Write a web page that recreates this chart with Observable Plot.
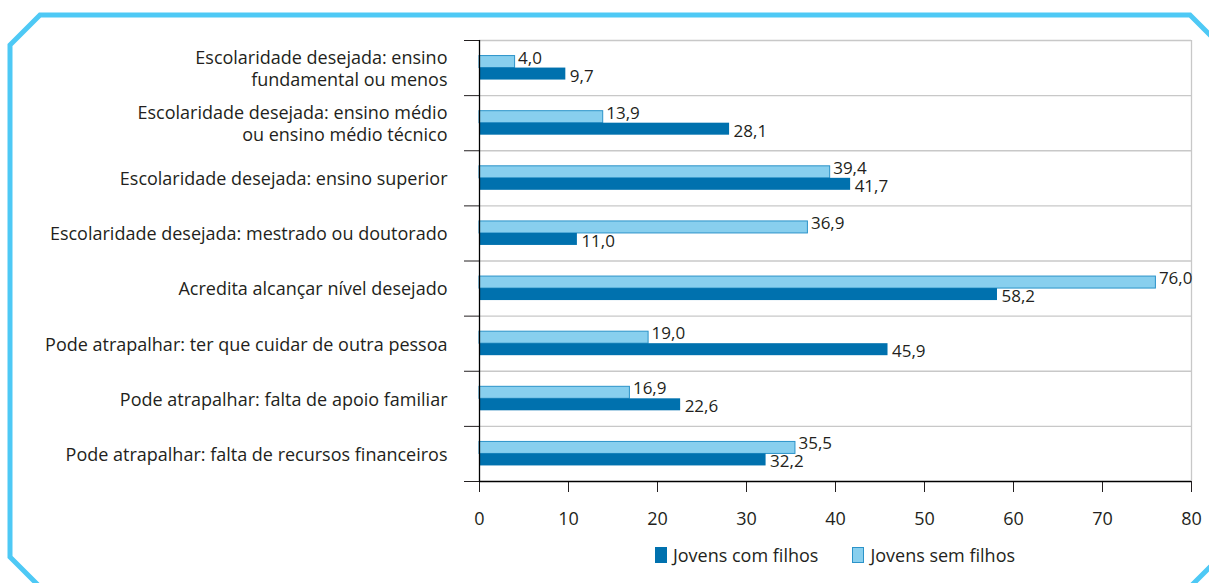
<!DOCTYPE html>
<html>
<head>
<meta charset="utf-8">
<script src="https://cdn.jsdelivr.net/npm/d3@7"></script>
<script src="https://cdn.jsdelivr.net/npm/@observablehq/plot@0.6"></script>
<style>
  html, body { margin: 0; padding: 0; background: #fff; }
  #wrap { position: relative; width: 1209px; height: 583px; overflow: hidden; font-family: "Open Sans", sans-serif; color: #231f20; }
  #frame { position: absolute; left: 0; top: 0; }
  #chart { position: absolute; left: 0; top: 0; }
  #legend { position: absolute; left: 479px; width: 712px; top: 543px; display: flex; justify-content: center; align-items: center; font-size: 18px; }
  .item { display: flex; align-items: center; margin: 0 17px; }
  .sw { width: 12px; height: 16px; margin-right: 6px; box-sizing: border-box; }
</style>
</head>
<body>
<div id="wrap">
  <svg id="frame" width="1209" height="583">
    <polygon points="40,15 1190,15 1220,45 1220,557 1190,587 40,587 10,557 10,45" fill="none" stroke="#4ec9f5" stroke-width="5"/>
  </svg>
  <div id="chart"></div>
  <div id="legend"></div>
</div>
<script>
const categories = [
  "Escolaridade desejada: ensino\nfundamental ou menos",
  "Escolaridade desejada: ensino médio\nou ensino médio técnico",
  "Escolaridade desejada: ensino superior",
  "Escolaridade desejada: mestrado ou doutorado",
  "Acredita alcançar nível desejado",
  "Pode atrapalhar: ter que cuidar de outra pessoa",
  "Pode atrapalhar: falta de apoio familiar",
  "Pode atrapalhar: falta de recursos financeiros"
];
const comFilhos = [9.7, 28.1, 41.7, 11.0, 58.2, 45.9, 22.6, 32.2];
const semFilhos = [4.0, 13.9, 39.4, 36.9, 76.0, 19.0, 16.9, 35.5];
const seriesNames = ["Jovens com filhos", "Jovens sem filhos"];
const xTicks = [0, 10, 20, 30, 40, 50, 60, 70, 80];

const darkColor = "#0071ae";
const lightColor = "#88cfee";
const lightStroke = "#2b93c9";
const textColor = "#231f20";

const width = 1209, height = 535;
const marginTop = 40, marginBottom = 54, marginLeft = 479, marginRight = 18;
const n = categories.length;
const bw = (height - marginTop - marginBottom) / n;
const barH = 12;
const fs = 18;
const vfs = 17;

const rows = categories.map((c, i) => ({cat: c, idx: i, com: comFilhos[i], sem: semFilhos[i]}));
const fmt = v => v.toFixed(1).replace(".", ",");

const chart = Plot.plot({
  width, height, marginTop, marginBottom, marginLeft, marginRight,
  style: {fontFamily: "'Open Sans', sans-serif", fontSize: fs + "px", color: textColor, background: "transparent"},
  x: {domain: [0, 80], ticks: xTicks, tickSize: 11, tickPadding: 20, tickFormat: d => String(d), label: null},
  y: {domain: [0, n], reverse: true, ticks: d3.range(n + 1), tickSize: 15, tickFormat: () => "", label: null},
  marks: [
    Plot.ruleY(d3.range(n), {x1: 0, x2: 80, stroke: "#c8c8c8", strokeWidth: 1.3}),
    Plot.ruleX([80], {y1: 0, y2: n, stroke: "#c8c8c8", strokeWidth: 1.3}),
    Plot.rect(rows, {x1: 0, x2: d => d.sem, y1: d => d.idx, y2: d => d.idx + 1,
      insetTop: bw / 2 - barH, insetBottom: bw / 2, fill: lightColor, stroke: lightStroke, strokeWidth: 1}),
    Plot.rect(rows, {x1: 0, x2: d => d.com, y1: d => d.idx, y2: d => d.idx + 1,
      insetTop: bw / 2, insetBottom: bw / 2 - barH, fill: darkColor}),
    Plot.text(rows, {x: d => d.sem, y: d => d.idx + 0.5, text: d => fmt(d.sem), textAnchor: "start", dx: 3, dy: -10, fill: textColor, fontSize: vfs}),
    Plot.text(rows, {x: d => d.com, y: d => d.idx + 0.5, text: d => fmt(d.com), textAnchor: "start", dx: 4, dy: 8, fill: textColor, fontSize: vfs}),
    Plot.text(rows, {x: 0, y: d => d.idx + 0.5, text: d => d.cat, textAnchor: "end", dx: -32, lineHeight: 1.2, fill: textColor, fontSize: fs}),
    Plot.ruleX([0], {y1: 0, y2: n, stroke: "#000", strokeWidth: 1.3}),
    Plot.ruleY([n], {x1: 0, x2: 80, stroke: "#000", strokeWidth: 1.3})
  ]
});
document.getElementById("chart").appendChild(chart);

const legend = document.getElementById("legend");
seriesNames.forEach((name, i) => {
  const item = document.createElement("div");
  item.className = "item";
  const sw = document.createElement("div");
  sw.className = "sw";
  if (i === 0) { sw.style.background = darkColor; }
  else { sw.style.background = lightColor; sw.style.border = "1px solid " + lightStroke; }
  const lab = document.createElement("span");
  lab.textContent = name;
  item.appendChild(sw); item.appendChild(lab);
  legend.appendChild(item);
});
</script>
</body>
</html>
